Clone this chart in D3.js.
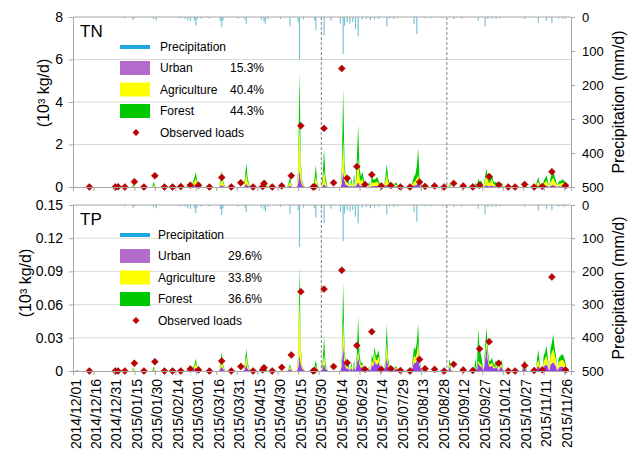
<!DOCTYPE html>
<html>
<head>
<meta charset="utf-8">
<script src="https://cdn.jsdelivr.net/npm/d3@7"></script>
<style>
  body { margin: 0; background: #fff; }
  svg text { font-family: Arial, "Liberation Sans", sans-serif; fill: #000; }
</style>
</head>
<body>
<div id="chart"></div>
<script>
// ---- data ----
const tickLabels = ["2014/12/01","2014/12/16","2014/12/31","2015/01/15","2015/01/30","2015/02/14","2015/03/01",
  "2015/03/16","2015/03/31","2015/04/15","2015/04/30","2015/05/15","2015/05/30","2015/06/14","2015/06/29",
  "2015/07/14","2015/07/29","2015/08/13","2015/08/28","2015/09/12","2015/09/27","2015/10/12","2015/10/27",
  "2015/11/11","2015/11/26"];
const seasonBreaks = ["2015/06/01", "2015/09/01"];

// simulated daily loads (days not listed are ~0)
const eventDates = [
  "2014/12/04",
  "2015/01/14","2015/01/15","2015/01/29","2015/01/30",
  "2015/02/23","2015/02/25","2015/02/27","2015/02/28",
  "2015/03/01","2015/03/02","2015/03/03","2015/03/19","2015/03/20","2015/03/21","2015/03/22",
  "2015/04/06","2015/04/07","2015/04/08","2015/04/09","2015/04/20","2015/04/21","2015/04/22",
  "2015/05/08","2015/05/09","2015/05/10","2015/05/15","2015/05/16","2015/05/17","2015/05/18","2015/05/19","2015/05/27","2015/05/28","2015/05/29",
  "2015/06/02","2015/06/03","2015/06/04","2015/06/05","2015/06/16","2015/06/17","2015/06/18","2015/06/19","2015/06/20","2015/06/21","2015/06/23","2015/06/25","2015/06/27","2015/06/28","2015/06/29","2015/06/30",
  "2015/07/01","2015/07/02","2015/07/03","2015/07/06","2015/07/08","2015/07/09","2015/07/10","2015/07/11","2015/07/12","2015/07/13","2015/07/14","2015/07/18","2015/07/19","2015/07/20","2015/07/21","2015/07/23","2015/07/25","2015/07/26","2015/07/27",
  "2015/08/07","2015/08/08","2015/08/09","2015/08/10","2015/08/11","2015/08/12","2015/08/13",
  "2015/09/03","2015/09/04","2015/09/22","2015/09/24","2015/09/25","2015/09/26","2015/09/27","2015/09/29","2015/09/30",
  "2015/10/01","2015/10/02","2015/10/03","2015/10/04","2015/10/05","2015/10/06","2015/10/07","2015/10/08","2015/10/10","2015/10/11","2015/10/12","2015/10/27","2015/10/28","2015/10/29",
  "2015/11/06","2015/11/07","2015/11/08","2015/11/11","2015/11/12","2015/11/13","2015/11/14","2015/11/16","2015/11/17","2015/11/18","2015/11/19","2015/11/20","2015/11/22","2015/11/23","2015/11/24","2015/11/25","2015/11/26","2015/11/27"
];

const tnUrban = [
  0,
  0.01,0.005,0.02,0.01,
  0.02,0.05,0.04,0.08,
  0.1,0.05,0.02,0.05,0.1,0.05,0.02,
  0.06,0.15,0.07,0.02,0.02,0.05,0.01,
  0.03,0.06,0.02,0.15,0.8,0.3,0.08,0.03,0.06,0.15,0.03,
  0.05,0.15,0.05,0.02,0.15,0.8,0.3,0.1,0.08,0.06,0.06,0.08,0.12,0.25,0.1,0.05,
  0.1,0.05,0.03,0.03,0.05,0.04,0.05,0.05,0.06,0.04,0.02,0.05,0.1,0.04,0.02,0.02,0.03,0.03,0.01,
  0.04,0.08,0.08,0.12,0.2,0.06,0.02,
  0.02,0.01,0.03,0.05,0.03,0.04,0.03,0.06,0.1,
  0.06,0.04,0.05,0.08,0.04,0.03,0.03,0.02,0.03,0.03,0.01,0.02,0.03,0.01,
  0.03,0.05,0.03,0.04,0.05,0.07,0.04,0.06,0.08,0.1,0.06,0.04,0.03,0.04,0.04,0.05,0.04,0.03
];
const tnAgri = [
  0.02,
  0.04,0.02,0.08,0.03,
  0.06,0.12,0.1,0.2,
  0.3,0.12,0.05,0.12,0.35,0.15,0.04,
  0.16,0.5,0.18,0.06,0.06,0.15,0.04,
  0.08,0.2,0.06,0.4,2.2,0.6,0.12,0.04,0.14,0.35,0.07,
  0.18,0.65,0.18,0.05,0.3,1.4,0.5,0.15,0.12,0.1,0.16,0.24,0.48,1.15,0.35,0.2,
  0.3,0.17,0.08,0.1,0.2,0.15,0.15,0.17,0.2,0.12,0.06,0.22,0.5,0.17,0.08,0.06,0.08,0.08,0.04,
  0.1,0.17,0.2,0.3,0.36,0.14,0.05,
  0.05,0.02,0.05,0.1,0.08,0.1,0.07,0.24,0.5,
  0.24,0.14,0.2,0.3,0.14,0.08,0.1,0.06,0.08,0.08,0.04,0.06,0.08,0.03,
  0.1,0.2,0.08,0.12,0.17,0.24,0.12,0.18,0.25,0.34,0.2,0.12,0.1,0.12,0.12,0.15,0.12,0.08
];
const tnForest = [
  0,
  0.07,0.025,0.15,0.04,
  0.07,0.13,0.11,0.17,
  0.29,0.13,0.05,0.13,0.32,0.1,0.04,
  0.18,0.49,0.2,0.07,0.07,0.16,0.05,
  0.09,0.22,0.07,0.25,2.43,0.3,0.1,0.03,0.2,0.53,0.1,
  0.27,1.02,0.27,0.08,0.35,2.44,0.4,0.15,0.15,0.14,0.18,0.28,0.6,1.52,0.45,0.25,
  0.32,0.18,0.09,0.12,0.23,0.16,0.15,0.18,0.22,0.14,0.07,0.23,0.51,0.19,0.1,0.07,0.09,0.09,0.05,
  0.16,0.25,0.32,0.58,1.26,0.2,0.08,
  0.08,0.02,0.12,0.23,0.14,0.16,0.1,0.2,0.28,
  0.15,0.12,0.15,0.22,0.12,0.09,0.12,0.07,0.09,0.09,0.05,0.07,0.09,0.03,
  0.12,0.23,0.09,0.14,0.18,0.25,0.14,0.21,0.27,0.36,0.24,0.14,0.12,0.14,0.14,0.18,0.14,0.09
];

const tpUrban = [
  0,
  0.0005,0,0.001,0,
  0.001,0.0015,0.001,0.002,
  0.003,0.0015,0.0005,0.002,0.004,0.002,0.0005,
  0.002,0.006,0.002,0.001,0.0005,0.0015,0.0005,
  0.001,0.002,0.0005,0.003,0.0145,0.006,0.002,0.001,0.001,0.002,0.0005,
  0.002,0.007,0.002,0.001,0.005,0.025,0.008,0.003,0.002,0.002,0.003,0.004,0.006,0.013,0.006,0.003,
  0.004,0.002,0.001,0.002,0.006,0.004,0.01,0.006,0.006,0.008,0.004,0.004,0.013,0.004,0.002,0.002,0.002,0.002,0.001,
  0.004,0.008,0.007,0.01,0.017,0.005,0.002,
  0.004,0.001,0.003,0.0075,0.005,0.004,0.003,0.01,0.022,
  0.01,0.004,0.004,0.005,0.003,0.002,0.004,0.002,0.003,0.004,0.001,0.002,0.004,0.001,
  0.003,0.005,0.003,0.004,0.005,0.006,0.004,0.006,0.007,0.008,0.006,0.004,0.003,0.004,0.004,0.004,0.003,0.002
];
const tpAgri = [
  0,
  0.001,0.0005,0.001,0.0005,
  0.001,0.001,0.001,0.002,
  0.004,0.001,0.0005,0.002,0.006,0.002,0.0005,
  0.002,0.007,0.003,0.001,0.001,0.0015,0.0005,
  0.001,0.002,0.0005,0.006,0.05,0.01,0.002,0.0005,0.001,0.003,0.0005,
  0.002,0.008,0.002,0.0005,0.004,0.021,0.006,0.002,0.002,0.001,0.002,0.002,0.003,0.005,0.003,0.002,
  0.002,0.001,0.0005,0.001,0.004,0.003,0.006,0.004,0.004,0.005,0.002,0.003,0.012,0.003,0.001,0.001,0.001,0.001,0.0005,
  0.003,0.006,0.005,0.006,0.009,0.002,0.001,
  0.002,0.0005,0.001,0.002,0.002,0.002,0.001,0.003,0.006,
  0.004,0.002,0.002,0.003,0.002,0.001,0.002,0.001,0.002,0.002,0.001,0.001,0.002,0.001,
  0.004,0.005,0.003,0.005,0.006,0.008,0.005,0.008,0.01,0.012,0.009,0.006,0.005,0.005,0.006,0.006,0.005,0.003
];
const tpForest = [
  0.0008,
  0.0015,0.0005,0.002,0.0005,
  0.001,0.0015,0.001,0.002,
  0.004,0.0015,0.0005,0.002,0.0075,0.002,0.0005,
  0.003,0.007,0.003,0.001,0.001,0.002,0.0005,
  0.001,0.002,0.001,0.004,0.03,0.004,0.001,0.0005,0.002,0.005,0.001,
  0.004,0.016,0.003,0.001,0.005,0.034,0.006,0.002,0.002,0.002,0.003,0.004,0.006,0.031,0.006,0.002,
  0.002,0.001,0.0005,0.001,0.005,0.003,0.006,0.004,0.005,0.006,0.002,0.005,0.018,0.004,0.002,0.001,0.001,0.001,0.0005,
  0.004,0.008,0.007,0.01,0.017,0.003,0.001,
  0.005,0.001,0.008,0.029,0.013,0.009,0.004,0.007,0.012,
  0.006,0.003,0.003,0.004,0.003,0.002,0.004,0.002,0.003,0.004,0.001,0.002,0.004,0.001,
  0.003,0.009,0.003,0.005,0.006,0.009,0.004,0.006,0.009,0.013,0.006,0.004,0.004,0.004,0.005,0.005,0.004,0.002
];

// observed loads (sampling days)
const obsDates = [
  "2014/12/13",
  "2015/01/01","2015/01/03","2015/01/08","2015/01/15","2015/01/22","2015/01/30",
  "2015/02/06","2015/02/12","2015/02/18","2015/02/25",
  "2015/03/03","2015/03/11","2015/03/20","2015/03/27",
  "2015/04/03","2015/04/12","2015/04/19","2015/04/20","2015/04/26",
  "2015/05/03","2015/05/10","2015/05/17","2015/05/26","2015/05/27",
  "2015/06/03","2015/06/10","2015/06/16","2015/06/20","2015/06/27",
  "2015/07/03","2015/07/08","2015/07/15","2015/07/22","2015/07/29",
  "2015/08/05","2015/08/12","2015/08/16","2015/08/23","2015/08/30",
  "2015/09/06","2015/09/13","2015/09/20","2015/09/25",
  "2015/10/02","2015/10/09","2015/10/16","2015/10/21","2015/10/28",
  "2015/11/04","2015/11/10","2015/11/17","2015/11/27"
];
const tnObs = [
  0,
  0,0.01,0,0.25,0,0.53,
  0,0,0.02,0.08,
  0.08,0,0.45,0,
  0.2,0,0.02,0.17,0,
  0.05,0.53,2.88,0,0.01,
  2.76,0.2,5.58,0.41,0.96,
  0.12,0.58,0.05,0.07,0,
  0,0.23,0.03,0.05,0,
  0.17,0.05,0,0.08,
  0.49,0.1,0,0,0.12,
  0,0.03,0.72,0.07
];
const tpObs = [
  0,
  0,0,0,0.007,0,0.0084,
  0,0,0,0.0018,
  0.001,0,0.009,0,
  0.004,0,0.001,0.003,0,
  0.0033,0.0145,0.0717,0,0.0005,
  0.074,0.004,0.091,0.0075,0.023,
  0.0015,0.0355,0.0015,0.002,0.0005,
  0,0.0105,0.002,0.0015,0,
  0.006,0.001,0.0005,0.02,
  0.0265,0.007,0,0,0.005,
  0.0005,0.001,0.085,0.001
];

// daily precipitation (mm/d)
const rainDates = [
  "2014/12/08","2014/12/20",
  "2015/01/08","2015/01/14","2015/01/15","2015/01/29","2015/01/31",
  "2015/02/17","2015/02/19","2015/02/21","2015/02/23","2015/02/25","2015/02/28",
  "2015/03/01","2015/03/02","2015/03/05","2015/03/11","2015/03/19","2015/03/20","2015/03/21",
  "2015/04/01","2015/04/06","2015/04/07","2015/04/18","2015/04/20","2015/04/21","2015/04/23",
  "2015/05/02","2015/05/09","2015/05/15","2015/05/16","2015/05/19","2015/05/27","2015/05/28",
  "2015/06/03","2015/06/08","2015/06/15","2015/06/17","2015/06/18","2015/06/20","2015/06/22","2015/06/24","2015/06/26","2015/06/28",
  "2015/07/01","2015/07/04","2015/07/07","2015/07/10","2015/07/13","2015/07/19","2015/07/21","2015/07/24","2015/07/27",
  "2015/08/08","2015/08/10","2015/08/16","2015/08/20","2015/08/25","2015/08/29",
  "2015/09/06","2015/09/12","2015/09/24","2015/09/29",
  "2015/10/01","2015/10/04","2015/10/07","2015/10/10","2015/10/28",
  "2015/11/07","2015/11/13","2015/11/17","2015/11/22","2015/11/25","2015/11/27"
];
const rainMm = [
  3,2,
  4,8,4,6,10,
  4,3,5,10,12,10,
  25,8,5,5,12,30,10,
  5,8,20,8,12,20,6,
  6,27,15,126,8,10,38,
  55,11,20,109,26,15,20,15,35,55,
  8,6,10,8,6,28,5,6,4,
  20,50,4,5,3,4,
  6,5,11,28,
  6,5,6,4,6,
  17,11,17,5,6,4
];

const legendNames = ["Urban", "Agriculture", "Forest"];
const tnShares = ["15.3%", "40.4%", "44.3%"];
const tpShares = ["29.6%", "33.8%", "36.6%"];
const tnTicks = [0, 2, 4, 6, 8];
const tpTicks = [0, 0.03, 0.06, 0.09, 0.12, 0.15];
const rainTicks = [0, 100, 200, 300, 400, 500];

// ---- drawing ----
const parse = d3.timeParse("%Y/%m/%d");
const fmt = d3.timeFormat("%Y/%m/%d");
const colors = { urban: "#9b3ef0", agriculture: "#ffff00", forest: "#00c800" };
const swatch = ["#b36ccc", "#ffff00", "#00c800"];
const axisGray = "#a6a6a6";
const left = 73, right = 571;

const days = d3.timeDay.range(parse("2014/12/01"), parse("2015/12/01"));
const eventIndex = new Map(eventDates.map((d, i) => [d, i]));

function dailyTable(u, a, f) {
  return days.map(day => {
    const i = eventIndex.get(fmt(day));
    return {
      date: day,
      urban: i == null ? 0 : u[i],
      agriculture: i == null ? 0 : a[i],
      forest: i == null ? 0 : f[i]
    };
  });
}
const rain = rainDates.map((d, i) => ({ date: parse(d), mm: rainMm[i] }));

const svg = d3.select("#chart").append("svg").attr("width", 634).attr("height", 456);
const x = d3.scaleTime().domain([parse("2014/12/01"), parse("2015/12/01")]).range([left, right]);

function drawPanel(p) {
  const y = d3.scaleLinear().domain([0, p.yMax]).range([p.bottom, p.top]);
  const yr = d3.scaleLinear().domain([0, 500]).range([p.top, p.bottom]);
  const g = svg.append("g");

  // grid
  g.append("g").selectAll("line")
    .data(p.ticks.filter(t => t > 0 && t < p.yMax))
    .join("line")
    .attr("x1", left).attr("x2", right)
    .attr("y1", d => y(d)).attr("y2", d => y(d))
    .attr("stroke", "#d9d9d9");

  // precipitation hanging from the top
  g.append("g").selectAll("rect")
    .data(rain)
    .join("rect")
    .attr("x", d => x(d.date) - 0.6)
    .attr("width", 1.2)
    .attr("y", p.top)
    .attr("height", d => yr(d.mm) - p.top)
    .attr("fill", "#78c5d6");

  // stacked sources
  const series = d3.stack().keys(["urban", "agriculture", "forest"])(p.table);
  const area = d3.area()
    .x(d => x(d.data.date))
    .y0(d => y(d[0]))
    .y1(d => y(d[1]));
  g.append("g").selectAll("path")
    .data(series)
    .join("path")
    .attr("d", area)
    .attr("fill", d => colors[d.key]);

  // season breaks
  g.append("g").selectAll("line")
    .data(seasonBreaks)
    .join("line")
    .attr("x1", d => x(parse(d))).attr("x2", d => x(parse(d)))
    .attr("y1", p.top).attr("y2", p.bottom)
    .attr("stroke", "#7f7f7f")
    .attr("stroke-dasharray", "3,2");

  // observed loads
  g.append("g").selectAll("path")
    .data(obsDates.map((d, i) => ({ date: parse(d), v: p.obs[i] })))
    .join("path")
    .attr("d", d3.symbol(d3.symbolSquare, 24))
    .attr("transform", d => `translate(${x(d.date)},${y(d.v)}) rotate(45)`)
    .attr("fill", "#c00000")
    .attr("stroke", "#900000")
    .attr("stroke-width", 0.5);

  // axes
  const yAxis = g.append("g")
    .attr("transform", `translate(${left},0)`)
    .call(d3.axisLeft(y).tickValues(p.ticks).tickSize(4).tickPadding(6).tickFormat(p.fmt));
  yAxis.selectAll("text").attr("font-size", "14px");

  const rAxis = g.append("g")
    .attr("transform", `translate(${right},0)`)
    .call(d3.axisRight(yr).tickValues(rainTicks).tickSize(4).tickPadding(7));
  rAxis.selectAll("text").attr("font-size", "13px");

  const xAxis = g.append("g")
    .attr("transform", `translate(0,${p.bottom})`)
    .call(d3.axisBottom(x).tickValues(tickLabels.map(parse)).tickSize(4).tickFormat(p.showDates ? fmt : ""));
  xAxis.selectAll("text")
    .attr("font-size", "14px")
    .attr("transform", "rotate(-90)")
    .attr("text-anchor", "end")
    .attr("x", -8)
    .attr("y", 0)
    .attr("dy", "0.5em");

  g.append("line")
    .attr("x1", left).attr("x2", right)
    .attr("y1", p.top).attr("y2", p.top)
    .attr("stroke", axisGray);

  g.selectAll(".domain").attr("stroke", axisGray);
  g.selectAll(".tick line").attr("stroke", axisGray);

  // titles
  g.append("text")
    .attr("x", left + 7).attr("y", p.top + 20)
    .attr("font-size", "17px")
    .text(p.name);
  g.append("text")
    .attr("transform", `translate(${p.titleX},${p.titleY}) rotate(-90)`)
    .attr("text-anchor", "middle")
    .attr("dy", "0.35em")
    .attr("font-size", "16px")
    .text("(10³ kg/d)");
  g.append("text")
    .attr("transform", `translate(618,${(p.top + p.bottom) / 2}) rotate(-90)`)
    .attr("text-anchor", "middle")
    .attr("dy", "0.35em")
    .attr("font-size", "16px")
    .text("Precipitation (mm/d)");

  // legend
  const lg = g.append("g").attr("transform", `translate(120,${p.top + 30})`);
  lg.append("line").attr("x1", 0).attr("x2", 30).attr("y1", 0).attr("y2", 0)
    .attr("stroke", "#1ea6df").attr("stroke-width", 4);
  lg.append("text").attr("x", p.textX).attr("y", 0).attr("dy", "0.35em")
    .attr("font-size", "12px").text("Precipitation");
  legendNames.forEach((name, i) => {
    const cy = 21 + i * 21.5;
    lg.append("rect").attr("x", 0).attr("y", cy - 7).attr("width", 30).attr("height", 14)
      .attr("fill", swatch[i]);
    lg.append("text").attr("x", p.textX).attr("y", cy).attr("dy", "0.35em")
      .attr("font-size", "12px").text(name);
    lg.append("text").attr("x", p.shareX).attr("y", cy).attr("dy", "0.35em")
      .attr("font-size", "12px").text(p.shares[i]);
  });
  lg.append("path")
    .attr("d", d3.symbol(d3.symbolSquare, 24))
    .attr("transform", "translate(16,85.5) rotate(45)")
    .attr("fill", "#c00000");
  lg.append("text").attr("x", p.textX).attr("y", 85.5).attr("dy", "0.35em")
    .attr("font-size", "12px").text("Observed loads");
}

drawPanel({
  name: "TN", top: 17, bottom: 187, yMax: 8, ticks: tnTicks,
  fmt: d3.format("d"), table: dailyTable(tnUrban, tnAgri, tnForest), obs: tnObs,
  shares: tnShares, textX: 40, shareX: 110, titleX: 43, titleY: 93, showDates: false
});
drawPanel({
  name: "TP", top: 205, bottom: 371, yMax: 0.15, ticks: tpTicks,
  fmt: d => d === 0 ? "0" : d3.format(".2f")(d), table: dailyTable(tpUrban, tpAgri, tpForest), obs: tpObs,
  shares: tpShares, textX: 38, shareX: 108, titleX: 25, titleY: 283, showDates: true
});
</script>
</body>
</html>
